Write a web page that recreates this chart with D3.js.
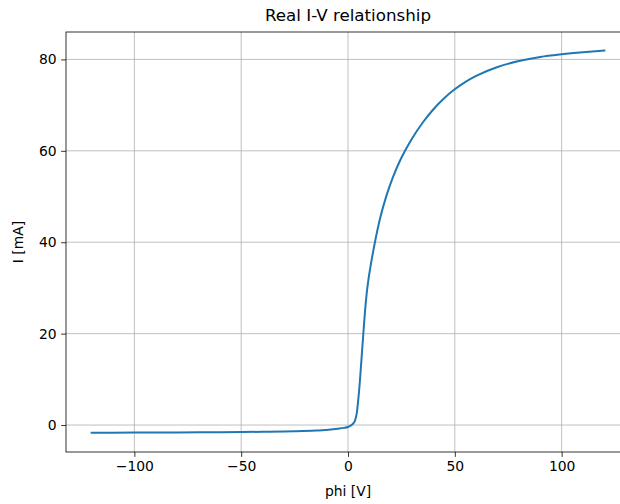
<!DOCTYPE html>
<html>
<head>
<meta charset="utf-8">
<script src="https://cdn.jsdelivr.net/npm/d3@7"></script>
<style>
  body { margin: 0; background: #fff; }
  svg { display: block; font-family: "DejaVu Sans", sans-serif; }
</style>
</head>
<body>
<svg id="chart" width="620" height="504"></svg>
<script>
// Data
const phi = [-120, -100, -80, -60, -40, -25, -15, -8, -4, -2, 0, 1, 2.5, 3.3, 4.1, 4.8, 5.6, 6.4, 7.3, 8.0, 8.7, 9.5, 10.6, 11.5, 12.6, 15, 18, 21, 24, 26.7, 30, 35, 40, 45, 49.8, 55, 60, 70, 80, 90, 100, 110, 120];
const current = [-1.68, -1.66, -1.62, -1.57, -1.48, -1.36, -1.2, -1.0, -0.78, -0.62, -0.42, -0.2, 0.37, 1.0, 2.6, 5.5, 9.8, 15.0, 20.8, 25.1, 28.6, 31.6, 34.9, 37.3, 40.0, 45.2, 50.2, 54.2, 57.5, 60.0, 62.7, 66.2, 69.1, 71.5, 73.4, 75.1, 76.4, 78.35, 79.65, 80.55, 81.13, 81.58, 81.95];
const xTicks = [-100, -50, 0, 50, 100];
const yTicks = [0, 20, 40, 60, 80];
const titleText = "Real I-V relationship";
const xLabelText = "phi [V]";
const yLabelText = "I [mA]";

(function () {
const svg = d3.select("#chart");
const mLeft = 66, mRight = 630, mTop = 32, mBottom = 452;

const x = d3.scaleLinear().domain([-132, 132]).range([mLeft, mRight]);
const y = d3.scaleLinear().domain([-5.9, 86.0]).range([mBottom, mTop]);

const pts = phi.map((v, i) => [v, current[i]]);

// grid
const grid = svg.append("g");
grid.selectAll("line.gx").data(xTicks).join("line")
  .attr("class", "gx")
  .attr("x1", d => x(d)).attr("x2", d => x(d))
  .attr("y1", mTop).attr("y2", mBottom)
  .attr("stroke", "#b0b0b0").attr("stroke-width", 0.8);
grid.selectAll("line.gy").data(yTicks).join("line")
  .attr("class", "gy")
  .attr("x1", mLeft).attr("x2", mRight)
  .attr("y1", d => y(d)).attr("y2", d => y(d))
  .attr("stroke", "#b0b0b0").attr("stroke-width", 0.8);

// line
svg.append("path")
  .datum(pts)
  .attr("fill", "none")
  .attr("stroke", "#1f77b4")
  .attr("stroke-width", 2)
  .attr("stroke-linecap", "square")
  .attr("stroke-linejoin", "round")
  .attr("d", d3.line().x(d => x(d[0])).y(d => y(d[1])).curve(d3.curveMonotoneX));

// axes
const fmt = d3.format("");
const xAxis = d3.axisBottom(x).tickValues(xTicks).tickSize(4.9).tickPadding(4.5).tickFormat(fmt);
const yAxis = d3.axisLeft(y).tickValues(yTicks).tickSize(4.9).tickPadding(4.5).tickFormat(fmt);

const gx = svg.append("g").attr("transform", `translate(0,${mBottom})`).call(xAxis);
const gy = svg.append("g").attr("transform", `translate(${mLeft},0)`).call(yAxis);
[gx, gy].forEach(g => {
  g.select(".domain").remove();
  g.selectAll(".tick line").attr("stroke", "#000").attr("stroke-width", 0.8);
  g.selectAll(".tick text").attr("fill", "#000").style("font-size", "13.9px").style("font-family", "DejaVu Sans");
});

// spines
svg.append("rect")
  .attr("x", mLeft).attr("y", mTop)
  .attr("width", mRight - mLeft).attr("height", mBottom - mTop)
  .attr("fill", "none").attr("stroke", "#000").attr("stroke-width", 0.8);

// labels
svg.append("text")
  .attr("x", (mLeft + mRight) / 2).attr("y", 21)
  .attr("text-anchor", "middle")
  .style("font-size", "16.7px")
  .text(titleText);

svg.append("text")
  .attr("x", (mLeft + mRight) / 2).attr("y", 496)
  .attr("text-anchor", "middle")
  .style("font-size", "13.9px")
  .text(xLabelText);

svg.append("text")
  .attr("transform", `translate(23,${(mTop + mBottom) / 2}) rotate(-90)`)
  .attr("text-anchor", "middle")
  .style("font-size", "13.9px")
  .text(yLabelText);
})();
</script>
</body>
</html>
